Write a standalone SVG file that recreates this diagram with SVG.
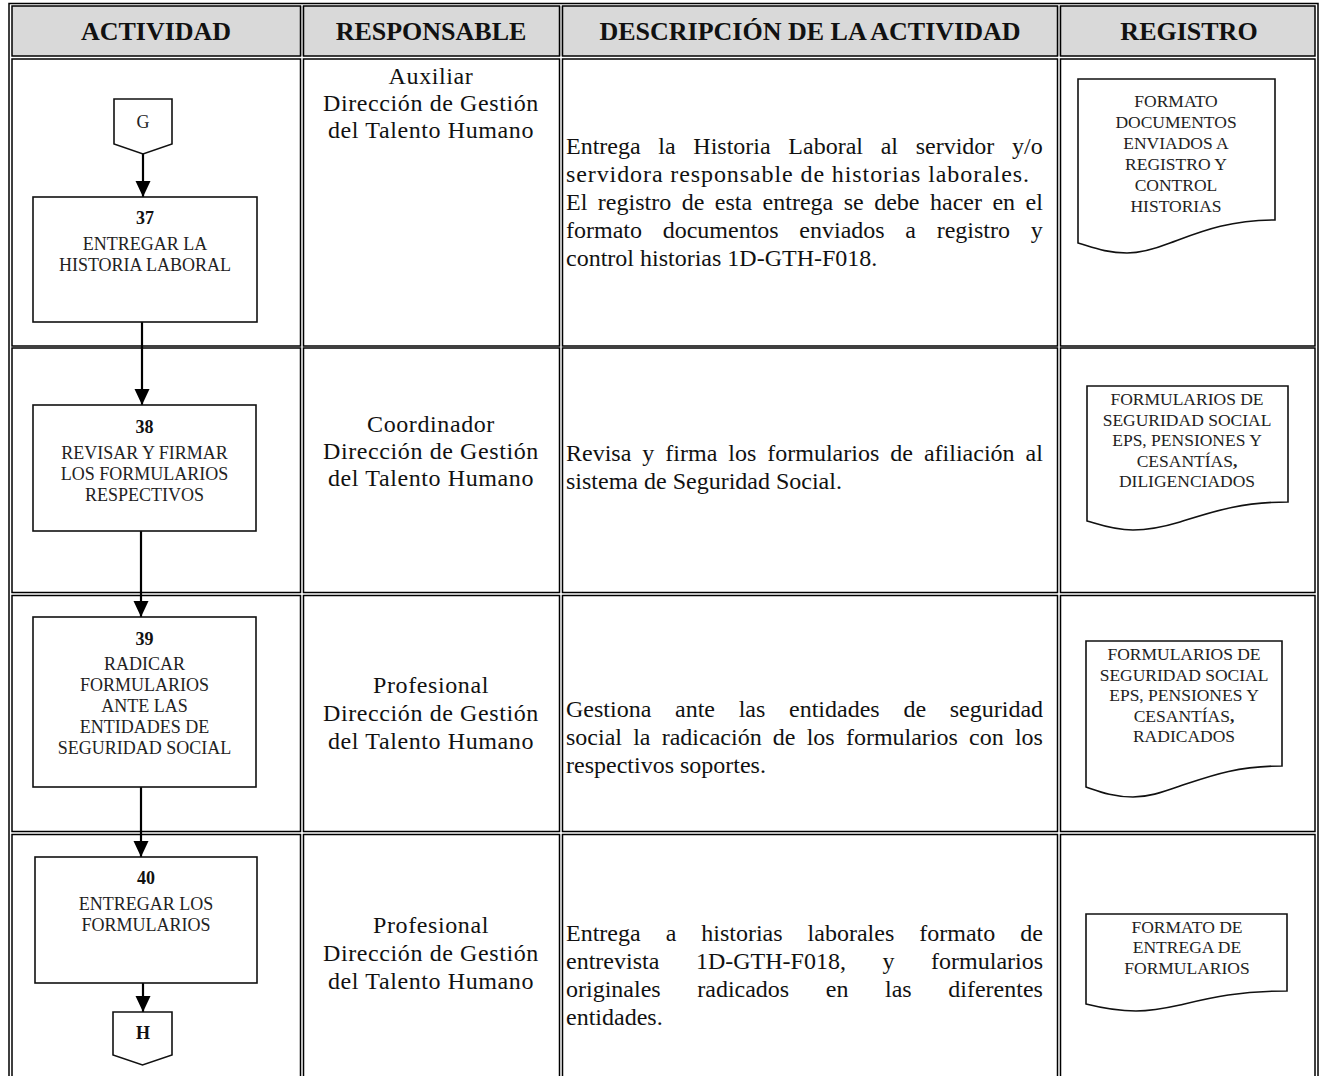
<svg xmlns="http://www.w3.org/2000/svg" width="1319" height="1076" viewBox="0 0 1319 1076">
<style>
.b{fill:none;stroke:#000;stroke-width:1.5}
.hd{fill:#d9d9d9}
.ht{font-family:"Liberation Serif",serif;font-weight:bold;font-size:26px;fill:#111;text-anchor:middle}
.rs{font-family:"Liberation Serif",serif;font-size:24px;letter-spacing:0.6px;fill:#111;text-anchor:middle}
.ds{font-family:"Liberation Serif",serif;font-size:24px;fill:#111}
.bx{fill:#fff;stroke:#111;stroke-width:1.6}
.bt{font-family:"Liberation Serif",serif;font-size:18px;fill:#222;text-anchor:middle}
.bn{font-family:"Liberation Serif",serif;font-size:18px;font-weight:bold;fill:#111;text-anchor:middle}
.dc{fill:#fff;stroke:#111;stroke-width:1.6}
.dt{font-family:"Liberation Serif",serif;font-size:17.5px;fill:#222;text-anchor:middle}
.cn{fill:none;stroke:#000;stroke-width:2.2}
</style>
<defs>
<marker id="arr" markerWidth="16" markerHeight="16" refX="16" refY="8" orient="auto" markerUnits="userSpaceOnUse"><path d="M0,0.5 L16,8 L0,15.5 Z" fill="#000"/></marker>
</defs>
<rect width="1319" height="1076" fill="#fff"/>
<g id="table">
<rect class="hd" x="12" y="6" width="1303" height="50"/>
<rect class="b" x="9" y="3.5" width="1309" height="1090"/>
<rect class="b" x="12" y="6" width="288.5" height="50"/>
<rect class="b" x="303.5" y="6" width="256" height="50"/>
<rect class="b" x="562.5" y="6" width="495" height="50"/>
<rect class="b" x="1060.5" y="6" width="254.5" height="50"/>
<rect class="b" x="12" y="59" width="288.5" height="287"/>
<rect class="b" x="303.5" y="59" width="256" height="287"/>
<rect class="b" x="562.5" y="59" width="495" height="287"/>
<rect class="b" x="1060.5" y="59" width="254.5" height="287"/>
<rect class="b" x="12" y="348" width="288.5" height="244.5"/>
<rect class="b" x="303.5" y="348" width="256" height="244.5"/>
<rect class="b" x="562.5" y="348" width="495" height="244.5"/>
<rect class="b" x="1060.5" y="348" width="254.5" height="244.5"/>
<rect class="b" x="12" y="595.5" width="288.5" height="236"/>
<rect class="b" x="303.5" y="595.5" width="256" height="236"/>
<rect class="b" x="562.5" y="595.5" width="495" height="236"/>
<rect class="b" x="1060.5" y="595.5" width="254.5" height="236"/>
<rect class="b" x="12" y="834.5" width="288.5" height="260"/>
<rect class="b" x="303.5" y="834.5" width="256" height="260"/>
<rect class="b" x="562.5" y="834.5" width="495" height="260"/>
<rect class="b" x="1060.5" y="834.5" width="254.5" height="260"/>
<text class="ht" x="156" y="40">ACTIVIDAD</text>
<text class="ht" x="431" y="40">RESPONSABLE</text>
<text class="ht" x="810" y="40">DESCRIPCIÓN DE LA ACTIVIDAD</text>
<text class="ht" x="1189" y="40">REGISTRO</text>
</g>
<g id="responsables">
<text class="rs" x="431" y="84">Auxiliar</text>
<text class="rs" x="431" y="111">Dirección de Gestión</text>
<text class="rs" x="431" y="138">del Talento Humano</text>
<text class="rs" x="431" y="432">Coordinador</text>
<text class="rs" x="431" y="459">Dirección de Gestión</text>
<text class="rs" x="431" y="486">del Talento Humano</text>
<text class="rs" x="431" y="693">Profesional</text>
<text class="rs" x="431" y="721">Dirección de Gestión</text>
<text class="rs" x="431" y="749">del Talento Humano</text>
<text class="rs" x="431" y="933">Profesional</text>
<text class="rs" x="431" y="961">Dirección de Gestión</text>
<text class="rs" x="431" y="989">del Talento Humano</text>
</g>
<g id="descripciones">
<text class="ds" x="566" y="154" word-spacing="11.7">Entrega la Historia Laboral al servidor y/o</text>
<text class="ds" x="566" y="182" textLength="463" lengthAdjust="spacing">servidora  responsable de historias laborales.</text>
<text class="ds" x="566" y="210" word-spacing="4.5">El registro de esta entrega se debe hacer en el</text>
<text class="ds" x="566" y="238" word-spacing="14.7">formato documentos enviados a registro y</text>
<text class="ds" x="566" y="266">control historias 1D-GTH-F018.</text>
<text class="ds" x="566" y="461" word-spacing="5">Revisa y firma los formularios de afiliación al</text>
<text class="ds" x="566" y="489">sistema de Seguridad Social.</text>
<text class="ds" x="566" y="717" word-spacing="17.7">Gestiona ante las entidades de seguridad</text>
<text class="ds" x="566" y="745" word-spacing="5.2">social la radicación de los formularios con los</text>
<text class="ds" x="566" y="773">respectivos soportes.</text>
<text class="ds" x="566" y="941" word-spacing="19">Entrega a historias laborales formato de</text>
<text class="ds" x="566" y="969" word-spacing="30.6">entrevista 1D-GTH-F018, y formularios</text>
<text class="ds" x="566" y="997" word-spacing="30.6">originales radicados en las diferentes</text>
<text class="ds" x="566" y="1025">entidades.</text>
</g>
<g id="connectors">
<line class="cn" x1="143" y1="154" x2="143" y2="197" marker-end="url(#arr)"/>
<line class="cn" x1="142" y1="322" x2="142" y2="405" marker-end="url(#arr)"/>
<line class="cn" x1="141" y1="531" x2="141" y2="617" marker-end="url(#arr)"/>
<line class="cn" x1="141" y1="787" x2="141" y2="857" marker-end="url(#arr)"/>
<line class="cn" x1="143" y1="983" x2="143" y2="1012" marker-end="url(#arr)"/>
</g>
<g id="G">
<path class="bx" d="M114,99 H172 V144 L143,154 L114,144 Z"/>
<text class="bt" x="143" y="128">G</text>
</g>
<g id="n37">
<rect class="bx" x="33" y="197" width="224" height="125"/>
<text class="bn" x="145" y="224">37</text>
<text class="bt" x="145" y="250">ENTREGAR LA</text>
<text class="bt" x="145" y="271">HISTORIA LABORAL</text>
</g>
<g id="n38">
<rect class="bx" x="33" y="405" width="223" height="126"/>
<text class="bn" x="144.5" y="433">38</text>
<text class="bt" x="144.5" y="459">REVISAR Y FIRMAR</text>
<text class="bt" x="144.5" y="480">LOS FORMULARIOS</text>
<text class="bt" x="144.5" y="501">RESPECTIVOS</text>
</g>
<g id="n39">
<rect class="bx" x="33" y="617" width="223" height="170"/>
<text class="bn" x="144.5" y="645">39</text>
<text class="bt" x="144.5" y="670">RADICAR</text>
<text class="bt" x="144.5" y="691">FORMULARIOS</text>
<text class="bt" x="144.5" y="712">ANTE LAS</text>
<text class="bt" x="144.5" y="733">ENTIDADES DE</text>
<text class="bt" x="144.5" y="754">SEGURIDAD SOCIAL</text>
</g>
<g id="n40">
<rect class="bx" x="35" y="857" width="222" height="126"/>
<text class="bn" x="146" y="884">40</text>
<text class="bt" x="146" y="910">ENTREGAR LOS</text>
<text class="bt" x="146" y="931">FORMULARIOS</text>
</g>
<g id="H">
<path class="bx" d="M113,1012 H172 V1055 L142.5,1065 L113,1055 Z"/>
<text class="bn" x="143" y="1039">H</text>
</g>
<g id="doc1">
<path class="dc" d="M1078,79 H1275 V220 C1228,220 1200,232 1170,243 C1152,250 1140,253 1127,253 C1106,253 1092,247 1078,243 Z"/>
<text class="dt" x="1176" y="107">FORMATO</text>
<text class="dt" x="1176" y="128">DOCUMENTOS</text>
<text class="dt" x="1176" y="149">ENVIADOS A</text>
<text class="dt" x="1176" y="170">REGISTRO Y</text>
<text class="dt" x="1176" y="191">CONTROL</text>
<text class="dt" x="1176" y="212">HISTORIAS</text>
</g>
<g id="doc2">
<path class="dc" d="M1087,386 H1288 V502 C1240,502 1212,512 1180,522 C1160,528 1148,530 1133,530 C1112,530 1098,524 1087,521 Z"/>
<text class="dt" x="1187" y="405">FORMULARIOS DE</text>
<text class="dt" x="1187" y="425.5">SEGURIDAD SOCIAL</text>
<text class="dt" x="1187" y="446">EPS, PENSIONES Y</text>
<text class="dt" x="1187" y="466.5">CESANTÍAS<tspan font-weight="bold">,</tspan></text>
<text class="dt" x="1187" y="487">DILIGENCIADOS</text>
</g>
<g id="doc3">
<path class="dc" d="M1086,641 H1282 V766 C1236,766 1210,776 1180,786 C1160,793 1148,797 1133,797 C1112,797 1098,791 1086,787 Z"/>
<text class="dt" x="1184" y="660">FORMULARIOS DE</text>
<text class="dt" x="1184" y="680.5">SEGURIDAD SOCIAL</text>
<text class="dt" x="1184" y="701">EPS, PENSIONES Y</text>
<text class="dt" x="1184" y="721.5">CESANTÍAS<tspan font-weight="bold">,</tspan></text>
<text class="dt" x="1184" y="742">RADICADOS</text>
</g>
<g id="doc4">
<path class="dc" d="M1086,914 H1287 V991 C1238,991 1210,998 1180,1005 C1162,1009 1150,1011 1136,1011 C1114,1011 1098,1007 1086,1004 Z"/>
<text class="dt" x="1187" y="932.5">FORMATO DE</text>
<text class="dt" x="1187" y="953">ENTREGA DE</text>
<text class="dt" x="1187" y="974">FORMULARIOS</text>
</g>
</svg>
